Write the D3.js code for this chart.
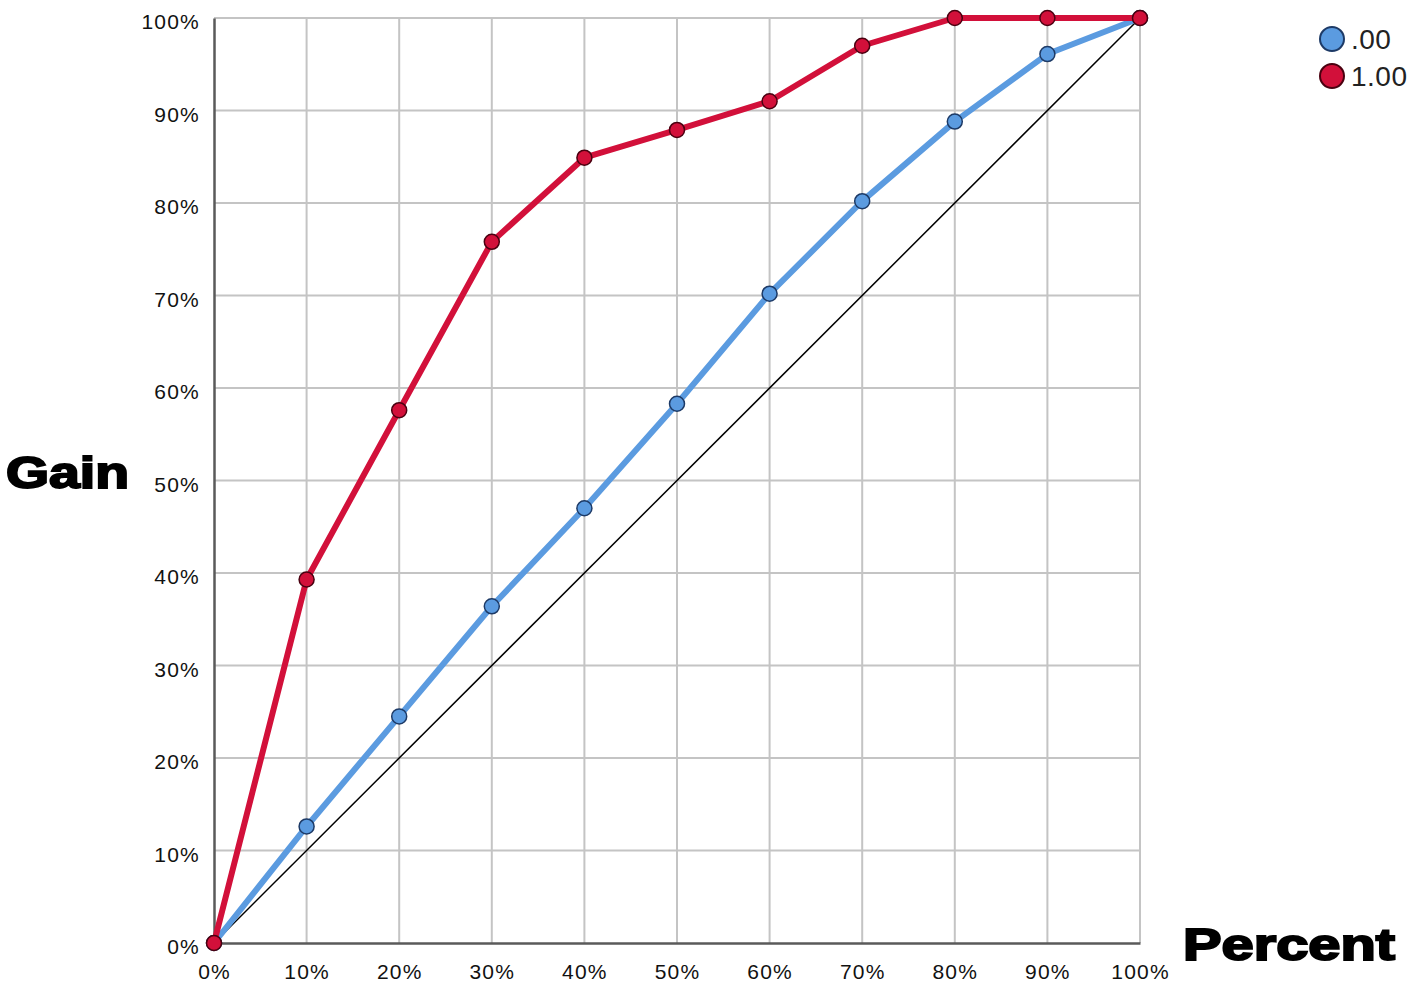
<!DOCTYPE html>
<html>
<head>
<meta charset="utf-8">
<script src="https://cdn.jsdelivr.net/npm/d3@7"></script>
<style>
  body { margin: 0; background: #fff; }
  svg { display: block; font-family: 'Liberation Sans', Arial, sans-serif; }
</style>
</head>
<body>
<svg id="chart" width="1417" height="999"></svg>
<script>
const percents = [0, 10, 20, 30, 40, 50, 60, 70, 80, 90, 100]
const gainZero = [0, 12.6, 24.5, 36.4, 47.0, 58.3, 70.2, 80.2, 88.8, 96.1, 100]
const gainOne = [0, 39.3, 57.6, 75.8, 84.9, 87.9, 91.0, 97.0, 100, 100, 100]
const seriesNames = ['.00', '1.00']
const seriesColors = ['#5b9be0', '#d2103a']

const svg = d3.select('#chart')
const x = d3.scaleLinear().domain([0, 100]).range([214, 1140])
const y = d3.scaleLinear().domain([0, 100]).range([943, 18])

const fmt = (d) => `${d}%`

// grid
const grid = svg.append('g')
grid.selectAll('line.v')
  .data(percents.slice(1))
  .join('line')
  .attr('x1', (d) => x(d)).attr('x2', (d) => x(d))
  .attr('y1', y(0)).attr('y2', y(100))
  .attr('stroke', '#c4c4c4').attr('stroke-width', 2)
grid.selectAll('line.h')
  .data(percents.slice(1))
  .join('line')
  .attr('x1', x(0)).attr('x2', x(100))
  .attr('y1', (d) => y(d)).attr('y2', (d) => y(d))
  .attr('stroke', '#c4c4c4').attr('stroke-width', 2)

// axes
const xAxis = svg.append('g')
  .attr('transform', `translate(0,${y(0)})`)
  .call(d3.axisBottom(x).tickValues(percents).tickFormat(fmt).tickSize(0).tickPadding(21))
const yAxis = svg.append('g')
  .attr('transform', `translate(${x(0)},0)`)
  .call(d3.axisLeft(y).tickValues(percents).tickFormat(fmt).tickSize(0).tickPadding(14))
for (const ax of [xAxis, yAxis]) {
  ax.select('.domain').attr('stroke', '#5a5a5a').attr('stroke-width', 2.5)
  ax.selectAll('text')
    .attr('font-family', "'Liberation Sans', Arial, sans-serif")
    .attr('font-size', 21).attr('fill', '#111')
    .attr('letter-spacing', 1.2)
}
yAxis.selectAll('text').attr('dy', '0.5em')

// diagonal reference
svg.append('line')
  .attr('x1', x(0)).attr('y1', y(0))
  .attr('x2', x(100)).attr('y2', y(100))
  .attr('stroke', '#000').attr('stroke-width', 1.5)

const line = d3.line().x((d, i) => x(percents[i])).y((d) => y(d))

;[gainZero, gainOne].forEach((vals, k) => {
  svg.append('path')
    .attr('d', line(vals))
    .attr('fill', 'none')
    .attr('stroke', seriesColors[k])
    .attr('stroke-width', 6)
    .attr('stroke-linejoin', 'round')
  svg.append('g').selectAll('circle')
    .data(vals)
    .join('circle')
    .attr('cx', (d, i) => x(percents[i]))
    .attr('cy', (d) => y(d))
    .attr('r', 7.5)
    .attr('fill', seriesColors[k])
    .attr('stroke', k === 0 ? '#1d3a66' : '#4a0010')
    .attr('stroke-width', 1.5)
})

// axis titles
svg.append('text')
  .attr('x', 6).attr('y', 488)
  .attr('font-size', 44).attr('font-weight', 'bold')
  .attr('stroke', '#000').attr('stroke-width', 2)
  .attr('textLength', 123).attr('lengthAdjust', 'spacingAndGlyphs')
  .text('Gain')
svg.append('text')
  .attr('x', 1183).attr('y', 960)
  .attr('font-size', 44).attr('font-weight', 'bold')
  .attr('stroke', '#000').attr('stroke-width', 2)
  .attr('textLength', 212).attr('lengthAdjust', 'spacingAndGlyphs')
  .text('Percent')

// legend
const legend = svg.append('g').selectAll('g')
  .data(seriesNames)
  .join('g')
  .attr('transform', (d, i) => `translate(1332,${39 + i * 37})`)
legend.append('circle')
  .attr('r', 12)
  .attr('fill', (d, i) => seriesColors[i])
  .attr('stroke', (d, i) => (i === 0 ? '#1d3a66' : '#4a0010'))
  .attr('stroke-width', 2)
legend.append('text')
  .attr('x', 19).attr('y', 10)
  .attr('font-size', 28).attr('fill', '#222')
  .attr('letter-spacing', 0.5)
  .text((d) => d)
</script>
</body>
</html>
